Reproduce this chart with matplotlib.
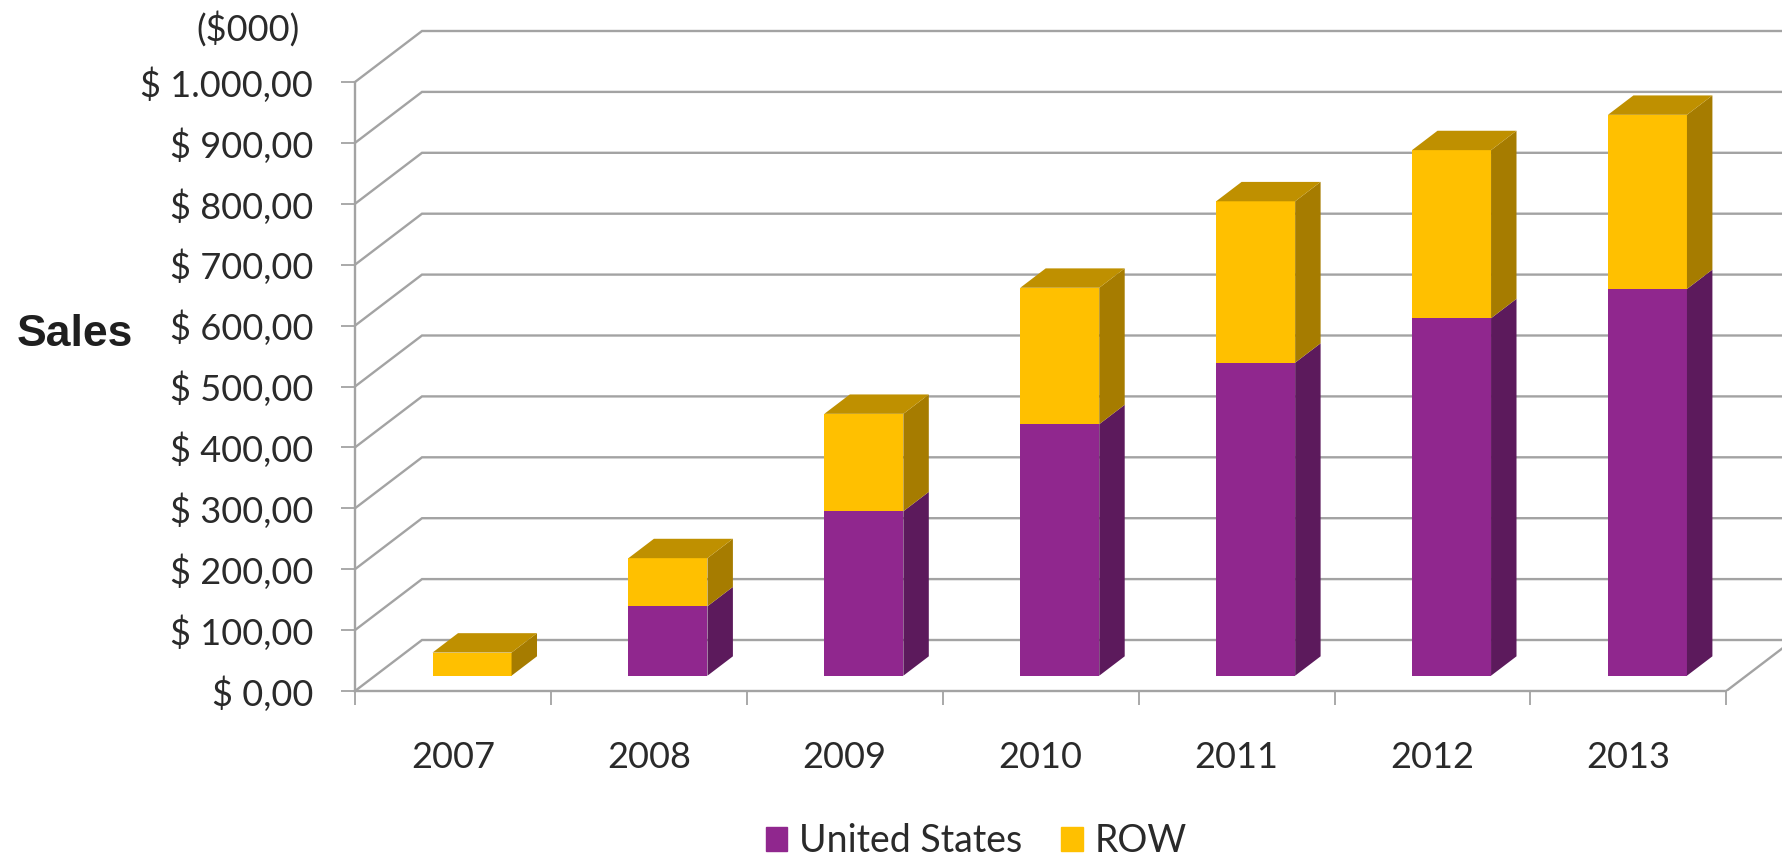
import matplotlib
matplotlib.use('Agg')
import matplotlib.pyplot as plt
from matplotlib.patches import Patch

years = ['2007', '2008', '2009', '2010', '2011', '2012', '2013']
us_sales = [0, 114, 270, 413, 514, 587, 635]
row_sales = [38, 79, 160, 224, 265, 276, 286]
y_ticks = [0, 100, 200, 300, 400, 500, 600, 700, 800, 900, 1000]
y_labels = ['$ 0,00', '$ 100,00', '$ 200,00', '$ 300,00', '$ 400,00', '$ 500,00',
            '$ 600,00', '$ 700,00', '$ 800,00', '$ 900,00', '$ 1.000,00']

PURPLE = '#90278E'
PURPLE_SIDE = '#5C1A5C'
GOLD = '#FFC000'
GOLD_SIDE = '#A67C00'
GOLD_TOP = '#BF9000'
GRID = '#A3A3A3'
TEXT = '#2A2A2A'

W, H = 1782, 857
X0, Y0 = 355, 691          # pixel position of the axes origin
CAT_PX, VAL_PX = 195.9, 0.609

# 3d look: how far the back wall is pushed, in data units
DX = 67 / CAT_PX
DY = 51 / VAL_PX
BAR_W = 79 / CAT_PX
BAR_FRONT_X = 0.285
BAR_FRONT_Y = 0.3
BAR_DEPTH = 0.38

plt.rcParams['font.family'] = ['Lato', 'DejaVu Sans']

fig = plt.figure(figsize=(W / 100, H / 100), dpi=100)
ax = fig.add_axes([X0 / W, (H - Y0) / H, (W - X0) / W, Y0 / H])
ax.set_xlim(0, (W - X0) / CAT_PX)
ax.set_ylim(0, Y0 / VAL_PX)
ax.patch.set_alpha(0)


def draw_segment(x, bottom, height, front, side):
    left = x - BAR_W / 2 + BAR_FRONT_X * DX
    right = left + BAR_W
    y1 = bottom + BAR_FRONT_Y * DY
    y2 = y1 + height
    ddx, ddy = BAR_DEPTH * DX, BAR_DEPTH * DY
    ax.bar(left, height, BAR_W, bottom=y1, align='edge', color=front, zorder=3)
    ax.fill([right, right + ddx, right + ddx, right], [y1, y1 + ddy, y2 + ddy, y2],
            color=side, lw=0, zorder=3)
    return left, right, y2, ddx, ddy


# wall and floor lines
for v in y_ticks:
    ax.plot([0, DX, ax.get_xlim()[1]], [v, v + DY, v + DY], color=GRID, lw=1.7, zorder=1,
            solid_joinstyle='miter')
ax.plot([len(years), len(years) + DX], [0, DY], color=GRID, lw=1.7, zorder=1)

for i, year in enumerate(years):
    x = i + 0.5
    if us_sales[i] > 0:
        draw_segment(x, 0, us_sales[i], PURPLE, PURPLE_SIDE)
    left, right, y2, ddx, ddy = draw_segment(x, us_sales[i], row_sales[i], GOLD, GOLD_SIDE)
    ax.fill([left, right, right + ddx, left + ddx], [y2, y2, y2 + ddy, y2 + ddy],
            color=GOLD_TOP, lw=0, zorder=3)

for name in ['top', 'right']:
    ax.spines[name].set_visible(False)
ax.spines['left'].set_bounds(0, 1000)
ax.spines['bottom'].set_bounds(0, len(years))
for name in ['left', 'bottom']:
    ax.spines[name].set_color(GRID)
    ax.spines[name].set_linewidth(1.7)

ax.set_yticks(y_ticks)
ax.set_yticklabels(y_labels, fontsize=26, color=TEXT)
ax.tick_params(axis='y', length=10, width=1.3, color=GRID, pad=20)

ax.set_xticks(range(len(years) + 1))
ax.set_xticklabels([])
ax.set_xticks([i + 0.5 for i in range(len(years))], minor=True)
ax.set_xticklabels(years, minor=True, fontsize=26, color=TEXT)
ax.tick_params(axis='x', which='major', length=10, width=1.3, color=GRID)
ax.tick_params(axis='x', which='minor', length=0, pad=36)

fig.text(248 / W, 1 - 29 / H, '($000)', fontsize=26, color=TEXT, ha='center', va='center')
fig.text(17 / W, 1 - 335 / H, 'Sales', fontsize=32, fontweight='bold', color='#1F1F1F',
         family='Liberation Sans', ha='left', va='center')

handles = [Patch(color=PURPLE, label='United States'), Patch(color=GOLD, label='ROW')]
fig.legend(handles=handles, loc='center', bbox_to_anchor=(976 / W, 1 - 841 / H), ncol=2, frameon=False,
           fontsize=27, labelcolor=TEXT, handlelength=0.58, handleheight=0.6,
           handletextpad=0.3, columnspacing=1.05, borderpad=0, borderaxespad=0)

fig.savefig('out.png', dpi=100)
